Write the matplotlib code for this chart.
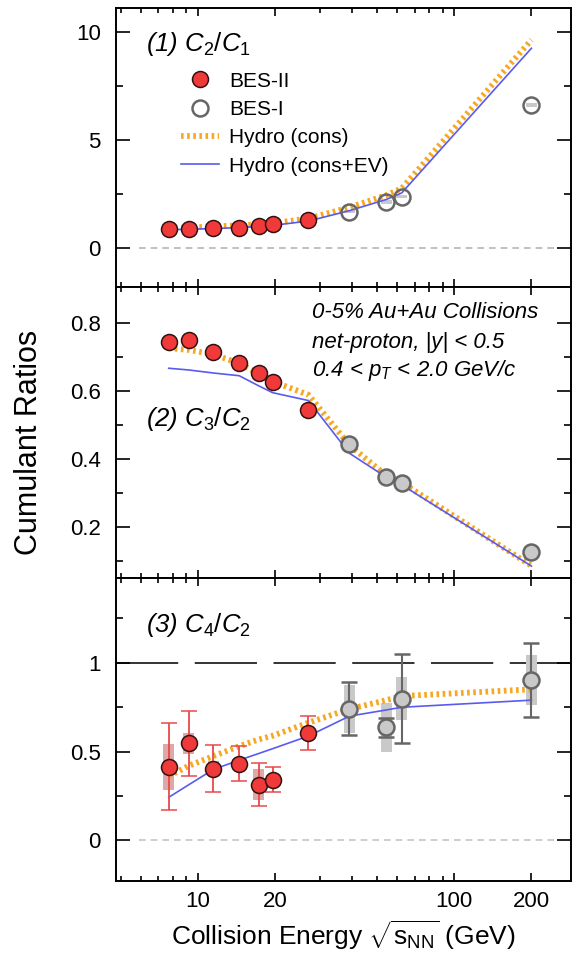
import matplotlib
matplotlib.use('Agg')
from matplotlib import pyplot as plt
from matplotlib.lines import Line2D
from matplotlib.patches import Rectangle
from matplotlib.ticker import FixedLocator, NullFormatter

plt.rcParams['font.family'] = ['Liberation Sans', 'DejaVu Sans']
plt.rcParams['mathtext.fontset'] = 'custom'
plt.rcParams['mathtext.rm'] = 'Liberation Sans'
plt.rcParams['mathtext.it'] = 'Liberation Sans:italic'

# collision energies (GeV)
e_bes2 = [7.7, 9.2, 11.5, 14.5, 17.3, 19.6, 27]
e_bes1 = [39, 54.4, 62.4, 200]
e_hydro = [7.7, 9.2, 11.5, 14.5, 17.3, 19.6, 27, 39, 54.4, 62.4, 200]

# (1) C2/C1
c21_bes2 = [0.88, 0.88, 0.93, 0.94, 1.02, 1.10, 1.30]
c21_bes1 = [1.68, 2.13, 2.38, 6.62]
c21_bes1_sys = [0.06, 0.08, 0.08, 0.1]
c21_cons = [0.92, 0.95, 1.0, 1.05, 1.1, 1.15, 1.37, 1.88, 2.45, 2.76, 9.63]
c21_ev = [0.85, 0.87, 0.9, 0.95, 1.0, 1.05, 1.25, 1.73, 2.25, 2.55, 9.24]

# (2) C3/C2
c32_bes2 = [0.744, 0.749, 0.715, 0.681, 0.653, 0.627, 0.543]
c32_bes1 = [0.442, 0.347, 0.328, 0.124]
c32_cons = [0.725, 0.72, 0.707, 0.68, 0.65, 0.627, 0.588, 0.44, 0.35, 0.33, 0.085]
c32_ev = [0.666, 0.661, 0.652, 0.644, 0.614, 0.594, 0.571, 0.416, 0.345, 0.323, 0.084]

# (3) C4/C2
c42_bes2 = [0.414, 0.546, 0.405, 0.433, 0.315, 0.343, 0.607]
c42_bes2_stat = [0.245, 0.185, 0.133, 0.10, 0.12, 0.072, 0.096]
c42_bes2_sys = [0.13, 0.06, 0.04, 0.015, 0.085, 0.015, 0.015]
c42_bes1 = [0.742, 0.637, 0.799, 0.904]
c42_bes1_stat = [0.148, 0.053, 0.25, 0.21]
c42_bes1_sys = [0.135, 0.137, 0.12, 0.14]
c42_cons = [0.362, 0.42, 0.475, 0.531, 0.569, 0.59, 0.663, 0.74, 0.79, 0.813, 0.851]
c42_ev = [0.243, 0.313, 0.40, 0.452, 0.49, 0.517, 0.588, 0.70, 0.735, 0.75, 0.79]

RED = '#f03a3a'
RED_BAR = '#e8494a'
RED_SYS = '#dca8a8'
GREY_EDGE = '#666666'
GREY_FILL = '#c9c9c9'
ORANGE = '#f7a823'
BLUE = '#5a5af0'
DOTS = (0, (0.45, 0.6))

fig, axes = plt.subplots(3, 1, sharex=True, figsize=(5.72, 9.56), dpi=100,
                         gridspec_kw=dict(height_ratios=[279, 291, 303], hspace=0,
                                          left=0.203, right=0.998, top=0.9916, bottom=0.0785))


def sys_boxes(ax, xs, ys, errs, color, half=1.05):
    for x, y, e in zip(xs, ys, errs):
        ax.add_patch(Rectangle((x / half, y - e), x * half - x / half, 2 * e,
                               facecolor=color, edgecolor='none', zorder=2))


def hydro(ax, cons, ev):
    ax.plot(e_hydro, cons, color=ORANGE, lw=4.2, linestyle=DOTS, zorder=3)
    ax.plot(e_hydro, ev, color=BLUE, lw=1.2, zorder=3)


ms = 11.5
lab_fs = 18.5
# panel 1
ax = axes[0]
ax.axhline(0, xmin=0.05, xmax=0.97, color='#b5b5b5', lw=1.2, ls=(0, (4, 3)), zorder=1)
sys_boxes(ax, e_bes1, c21_bes1, c21_bes1_sys, GREY_FILL)
hydro(ax, c21_cons, c21_ev)
ax.plot(e_bes1, c21_bes1, 'o', ms=ms, mfc='none', mec=GREY_EDGE, mew=1.8, zorder=4)
ax.plot(e_bes2, c21_bes2, 'o', ms=ms, mfc=RED, mec='#331111', mew=1.1, zorder=5)
ax.set_ylim(-1.8, 11.1)
ax.yaxis.set_major_locator(FixedLocator([0, 5, 10]))
ax.yaxis.set_minor_locator(FixedLocator([2.5, 7.5]))
ax.text(0.066, 0.87, r'(1) $C_{\mathit{2}}/C_{\mathit{1}}$', transform=ax.transAxes,
        fontsize=lab_fs, style='italic', va='center')
handles = [
    Line2D([], [], ls='none', marker='o', ms=ms, mfc=RED, mec='#331111', mew=1.1),
    Line2D([], [], ls='none', marker='o', ms=ms, mfc='white', mec=GREY_EDGE, mew=1.8),
    Line2D([], [], color=ORANGE, lw=4.2, ls=DOTS),
    Line2D([], [], color=BLUE, lw=1.2),
]
ax.legend(handles, ['BES-II', 'BES-I', 'Hydro (cons)', 'Hydro (cons+EV)'],
          loc='upper left', bbox_to_anchor=(0.143, 0.772), frameon=False,
          fontsize=15, handlelength=1.8, handletextpad=0.5, labelspacing=0.45,
          borderpad=0, borderaxespad=0)

# panel 2
ax = axes[1]
hydro(ax, c32_cons, c32_ev)
ax.plot(e_bes1, c32_bes1, 'o', ms=ms, mfc=GREY_FILL, mec=GREY_EDGE, mew=1.8, zorder=4)
ax.plot(e_bes2, c32_bes2, 'o', ms=ms, mfc=RED, mec='#331111', mew=1.1, zorder=5)
ax.set_ylim(0.049, 0.905)
ax.yaxis.set_major_locator(FixedLocator([0.2, 0.4, 0.6, 0.8]))
ax.yaxis.set_minor_locator(FixedLocator([0.1, 0.3, 0.5, 0.7]))
ax.text(0.066, 0.545, r'(2) $C_{\mathit{3}}/C_{\mathit{2}}$', transform=ax.transAxes,
        fontsize=lab_fs, style='italic', va='center')
info = ['0-5% Au+Au Collisions', 'net-proton, |y| < 0.5', r'0.4 < $p_{T}$ < 2.0 GeV/c']
for txt, yy in zip(info, [0.914, 0.811, 0.712]):
    ax.text(0.43, yy, txt, transform=ax.transAxes, fontsize=16, style='italic', va='center')

# panel 3
ax = axes[2]
ax.axhline(0, xmin=0.05, xmax=0.97, color='#c5c5c5', lw=1.2, ls=(0, (4, 3)), zorder=1)
ax.axhline(1, color='#333333', lw=1.4, ls=(0, (32, 8.5)), zorder=1)
sys_boxes(ax, e_bes2, c42_bes2, c42_bes2_sys, RED_SYS)
sys_boxes(ax, e_bes1, c42_bes1, c42_bes1_sys, GREY_FILL)
hydro(ax, c42_cons, c42_ev)
ax.errorbar(e_bes1, c42_bes1, yerr=c42_bes1_stat, fmt='o', ms=ms, mfc=GREY_FILL, mec=GREY_EDGE,
            mew=1.8, ecolor=GREY_EDGE, elinewidth=1.5, capsize=6, capthick=1.5, zorder=4)
ax.errorbar(e_bes2, c42_bes2, yerr=c42_bes2_stat, fmt='o', ms=ms, mfc=RED, mec='#331111',
            mew=1.1, ecolor=RED_BAR, elinewidth=1.3, capsize=6, capthick=1.3, zorder=5)
ax.set_ylim(-0.228, 1.478)
ax.yaxis.set_major_locator(FixedLocator([0, 0.5, 1]))
ax.yaxis.set_minor_locator(FixedLocator([0.25, 0.75, 1.25]))
ax.yaxis.set_major_formatter(plt.FuncFormatter(lambda v, p: '%g' % v))
ax.text(0.066, 0.845, r'(3) $C_{\mathit{4}}/C_{\mathit{2}}$', transform=ax.transAxes,
        fontsize=lab_fs, style='italic', va='center')

ax.set_xscale('log')
ax.set_xlim(4.8, 285)
ax.xaxis.set_major_locator(FixedLocator([10, 100]))
ax.xaxis.set_minor_locator(FixedLocator([5, 6, 7, 8, 9, 20, 30, 40, 50, 60, 70, 80, 90, 200]))
ax.xaxis.set_minor_formatter(NullFormatter())
ax.set_xticks([10, 20, 100, 200])
ax.set_xticklabels(['10', '20', '100', '200'])
ax.set_xlabel(r'Collision Energy $\sqrt{\mathrm{s}_{\mathrm{NN}}}$ (GeV)', fontsize=19, labelpad=5)

for ax in axes:
    for sp in ax.spines.values():
        sp.set_linewidth(1.4)
    ax.tick_params(which='both', direction='in', top=True, right=True, width=1.2)
    ax.tick_params(axis='y', which='major', length=10, labelsize=16, pad=11)
    ax.tick_params(axis='y', which='minor', length=5)
    ax.tick_params(axis='x', which='major', length=6, labelsize=16, pad=7)
    ax.tick_params(axis='x', which='minor', length=3.5)

fig.text(0.05, 0.537, 'Cumulant Ratios', rotation=90, fontsize=22, va='center', ha='center')

fig.savefig('out.png', dpi=100)
